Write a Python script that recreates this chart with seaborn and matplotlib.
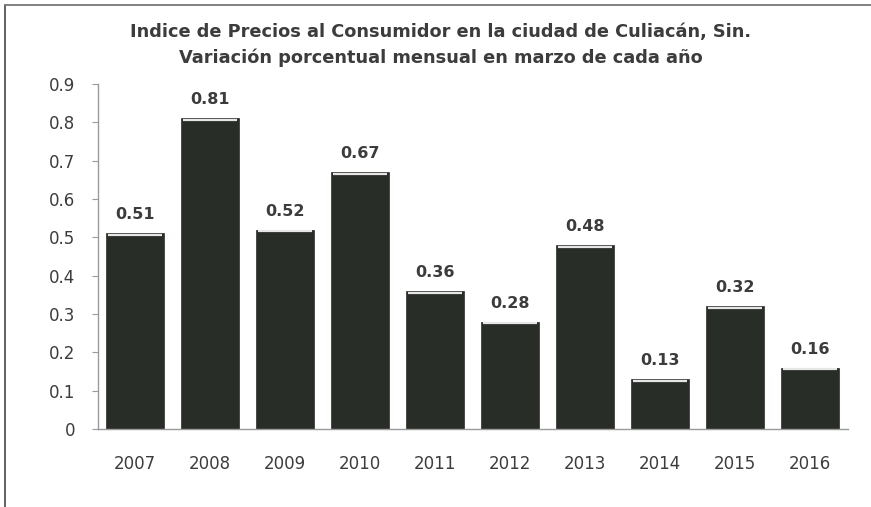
import numpy as np
import pandas as pd
import matplotlib
matplotlib.use('Agg')
import matplotlib.pyplot as plt
from matplotlib.lines import Line2D
import seaborn as sns

years  = ['2007', '2008', '2009', '2010', '2011', '2012', '2013', '2014', '2015', '2016']
values = [0.51, 0.81, 0.52, 0.67, 0.36, 0.28, 0.48, 0.13, 0.32, 0.16]
yticks = [0, 0.1, 0.2, 0.3, 0.4, 0.5, 0.6, 0.7, 0.8, 0.9]

TITLE = ('Indice de Precios al Consumidor en la ciudad de Culiacán, Sin.\n'
         'Variación porcentual mensual en marzo de cada año')
TXT   = '#3c3c3c'
BAR   = '#292d27'

sns.set_style('white')
plt.rcParams['font.family'] = ['DejaVu Sans']

df = pd.DataFrame({'year': years, 'value': values})

fig = plt.figure(figsize=(8.71, 5.07), dpi=100)
ax = fig.add_axes([97.5 / 871, 1 - 429 / 507, 750 / 871, 345 / 507])

sns.barplot(data=df, x='year', y='value', color=BAR, width=0.77,
            saturation=1, ax=ax, edgecolor=BAR, linewidth=0.5)

# light highlight along the top of each bar
for p, v in zip(ax.patches, values):
    x0, w = p.get_x(), p.get_width()
    ax.plot([x0 + 0.02, x0 + w - 0.02], [v - 0.004, v - 0.004],
            color='#e6e6e6', lw=1.6, solid_capstyle='butt')
    ax.annotate(f'{v:.2f}', (x0 + w / 2, v),
                xytext=(0, 8), textcoords='offset points',
                ha='center', va='bottom', fontsize=11.5,
                fontweight='bold', color=TXT)

ax.set_ylim(0, 0.9)
ax.set_xlim(-0.5, len(years) - 0.5)
ax.set_yticks(yticks)
ax.set_yticklabels([f'{t:g}' for t in yticks])
ax.set_xticks(np.arange(len(years)))
ax.set_xticks(np.arange(len(years) + 1) - 0.5, minor=True)
ax.tick_params(axis='x', which='major', length=0, pad=19, labelsize=12, labelcolor=TXT)
ax.tick_params(axis='x', which='minor', length=4, color='#9a9a9a', direction='out')
ax.tick_params(axis='y', length=4, color='#9a9a9a', pad=12, labelsize=12, labelcolor=TXT, left=True)
ax.set_xlabel('')
ax.set_ylabel('')

for s in ['top', 'right']:
    ax.spines[s].set_visible(False)
for s in ['left', 'bottom']:
    ax.spines[s].set_color('#9a9a9a')
    ax.spines[s].set_linewidth(1)

fig.text(0.5 + 5 / 871, 1 - 45 / 507, TITLE, ha='center', va='center',
         fontsize=12.8, fontweight='bold', color=TXT, linespacing=1.5)

# frame remnants: left and top edge only
fig.add_artist(Line2D([5 / 871, 5 / 871], [0, 1 - 5 / 507],
                      transform=fig.transFigure, color='#555555', lw=1.3))
fig.add_artist(Line2D([5 / 871, 1], [1 - 5 / 507, 1 - 5 / 507],
                      transform=fig.transFigure, color='#777777', lw=1.3))

fig.savefig('out.png', dpi=100)
